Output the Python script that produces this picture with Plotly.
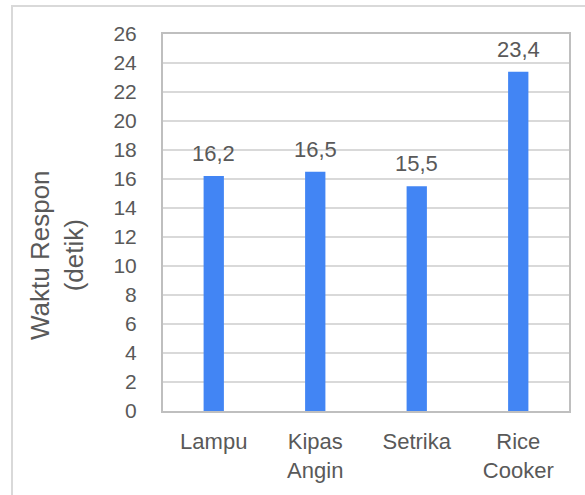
import plotly.graph_objects as go

categories = ["Lampu", "Kipas<br>Angin", "Setrika", "Rice<br>Cooker"]
values = [16.2, 16.5, 15.5, 23.4]
labels = ["16,2", "16,5", "15,5", "23,4"]
y_ticks = list(range(0, 27, 2))

FONT = "Liberation Sans, Arial, sans-serif"
TXT = "#595959"

L, R, T, B = 163, 16, 34, 84
W, H = 585, 495
pw, ph = W - L - R, H - T - B

def px(x):
    return (x - L) / pw

def py(y):
    return (H - B - y) / ph

fig = go.Figure()
fig.add_trace(go.Bar(
    x=categories, y=values, width=0.2,
    marker=dict(color="#4285F4", line=dict(width=0)),
    hoverinfo="skip",
))

for c, v, t in zip(categories, values, labels):
    fig.add_annotation(x=c, y=v, text=t, showarrow=False, yanchor="bottom",
                       yshift=8, font=dict(family=FONT, size=22, color=TXT))

fig.add_annotation(xref="paper", yref="paper", x=px(57), y=py(255),
                   xanchor="center", yanchor="middle",
                   text="Waktu Respon<br>(detik)", textangle=-90, showarrow=False,
                   font=dict(family=FONT, size=26, color=TXT))

fig.add_shape(type="rect", xref="paper", yref="paper",
              x0=px(12), x1=px(600), y0=py(510), y1=py(6),
              line=dict(color="#d9d9d9", width=2), layer="below")

fig.update_layout(
    width=W, height=H,
    margin=dict(l=L, r=R, t=T, b=B),
    paper_bgcolor="white", plot_bgcolor="white",
    showlegend=False,
    xaxis=dict(showline=True, linecolor="#bfbfbf", linewidth=2, mirror=True,
               showgrid=False, ticks="", ticklabelstandoff=10,
               tickfont=dict(family=FONT, size=22, color=TXT)),
    yaxis=dict(range=[0, 26], tickvals=y_ticks, showline=True, linecolor="#bfbfbf",
               linewidth=2, mirror=True, gridcolor="#d9d9d9", gridwidth=2,
               ticks="", ticklabelstandoff=20, zeroline=False,
               tickfont=dict(family=FONT, size=21, color=TXT)),
)

fig.write_html("out.html")
